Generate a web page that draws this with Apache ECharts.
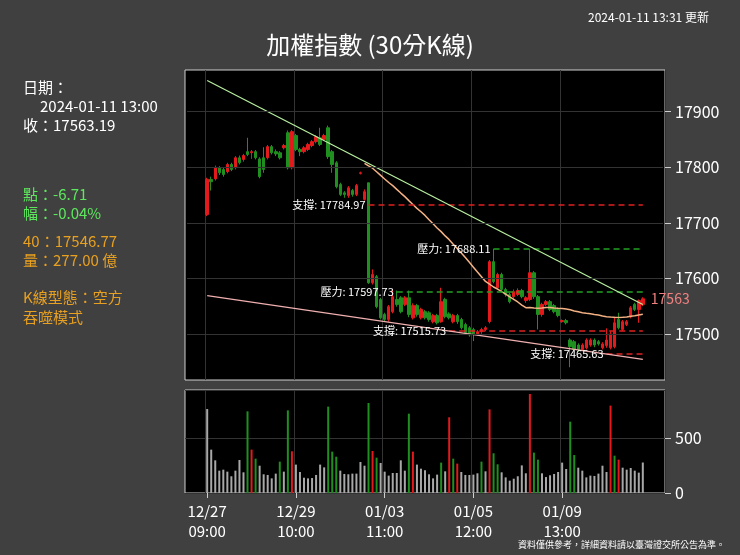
<!DOCTYPE html>
<html lang="zh-Hant">
<head>
<meta charset="UTF-8">
<title>加權指數 (30分K線)</title>
<script src="https://cdn.jsdelivr.net/npm/echarts@6/dist/echarts.min.js"></script>
<style>
  html, body { margin: 0; padding: 0; background: #404040; }
  #chart { width: 740px; height: 555px; }
</style>
</head>
<body>
<div id="chart"></div>
<script>
  // trading days and 30-min bar times
  const days = ['12/27', '12/28', '12/29', '01/02', '01/03', '01/04', '01/05', '01/08', '01/09', '01/10', '01/11'];
  const times = ['09:00', '09:30', '10:00', '10:30', '11:00', '11:30', '12:00', '12:30', '13:00', '13:30'];

  // [open, close, low, high]
  const kData = [
    [17715,17778,17712,17781],[17778,17774,17758,17783],[17779,17799,17776,17803],[17799,17790,17786,17802],[17796,17787,17783,17799],
    [17792,17805,17789,17808],[17805,17796,17793,17808],[17799,17817,17796,17820],[17817,17808,17805,17821],[17814,17821,17810,17824],
    [17828,17823,17820,17853],[17826,17828,17815,17831],[17828,17817,17814,17831],[17815,17783,17780,17818],[17817,17796,17790,17836],
    [17817,17837,17814,17840],[17837,17826,17823,17840],[17828,17824,17820,17832],[17826,17817,17814,17829],[17835,17839,17832,17842],
    [17862,17799,17796,17866],[17799,17864,17796,17867],[17857,17832,17829,17860],[17832,17828,17820,17835],[17828,17835,17825,17838],
    [17832,17841,17829,17844],[17839,17846,17836,17849],[17846,17855,17843,17858],[17853,17841,17838,17871],[17850,17857,17847,17860],
    [17871,17819,17815,17875],[17828,17805,17790,17831],[17808,17765,17762,17811],[17769,17751,17748,17772],[17754,17751,17745,17757],
    [17749,17763,17745,17766],[17758,17751,17747,17761],[17751,17767,17748,17770],[17789,17790,17787,17792],[17742,17756,17740,17760],
    [17772,17592,17590,17772],[17592,17607,17589,17616],[17603,17549,17546,17606],[17562,17529,17526,17565],[17535,17526,17522,17538],
    [17526,17549,17522,17552],[17540,17567,17537,17580],[17562,17553,17549,17578],[17565,17540,17537,17568],[17553,17565,17550,17568],
    [17565,17535,17530,17578],[17529,17551,17526,17555],[17551,17535,17531,17554],[17529,17544,17526,17547],[17540,17529,17526,17543],
    [17538,17526,17522,17541],[17522,17533,17519,17536],[17533,17520,17517,17536],[17522,17558,17520,17583],[17562,17531,17528,17565],
    [17536,17529,17526,17539],[17522,17533,17519,17536],[17533,17522,17518,17536],[17526,17511,17508,17529],[17517,17502,17499,17520],
    [17511,17498,17495,17514],[17508,17500,17487,17511],[17500,17504,17497,17507],[17504,17508,17500,17511],[17508,17511,17505,17514],
    [17522,17630,17519,17633],[17630,17594,17591,17653],[17583,17607,17580,17610],[17607,17580,17576,17610],[17580,17571,17567,17583],
    [17571,17558,17555,17574],[17567,17576,17564,17580],[17571,17578,17568,17582],[17578,17567,17564,17581],[17560,17565,17556,17568],
    [17562,17610,17559,17653],[17610,17567,17563,17613],[17567,17535,17508,17570],[17535,17553,17531,17556],[17553,17558,17550,17561],
    [17558,17544,17541,17561],[17551,17540,17537,17554],[17544,17533,17530,17547],[17522,17524,17520,17526],[17524,17520,17517,17527],
    [17489,17477,17440,17492],[17486,17472,17469,17489],[17480,17472,17468,17483],[17472,17480,17469,17483],[17475,17489,17472,17492],
    [17480,17489,17477,17492],[17489,17480,17476,17492],[17486,17482,17479,17489],[17475,17482,17472,17485],[17479,17489,17475,17510],
    [17475,17500,17472,17505],[17477,17520,17474,17529],[17526,17511,17508,17538],[17508,17522,17505,17525],[17517,17522,17514,17525],
    [17531,17547,17528,17550],[17553,17544,17541,17556],[17544,17560,17520,17562],[17553,17563.19,17550,17566]
  ];

  // volume (億)
  const volumes = [
    763,394,297,203,212,194,152,203,300,188,
    742,394,312,248,170,164,133,176,285,194,
    751,379,258,191,139,133,136,164,258,233,
    785,376,330,203,173,170,176,176,282,248,
    818,382,321,273,194,158,182,182,297,203,
    721,376,258,221,206,170,133,167,276,197,
    688,312,267,191,164,164,167,179,285,197,
    760,361,261,188,142,112,130,152,251,179,
    900,367,303,179,145,161,173,191,276,218,
    648,345,230,203,142,158,155,176,248,191,
    794,339,303,230,212,227,203,185,277
  ];
  // highlighted volume bars: 1 = up (red), -1 = down (green)
  const volMarks = {
    10: -1, 11: 1, 12: -1, 18: -1, 20: -1, 21: 1, 30: -1, 31: -1, 32: -1,
    40: -1, 41: 1, 42: -1, 50: -1, 51: 1, 58: -1, 60: 1, 61: -1, 62: 1, 68: -1,
    70: 1, 71: -1, 72: -1, 80: 1, 81: -1, 82: -1, 90: -1, 91: -1, 100: 1, 101: -1, 102: 1
  };

  // support / resistance lines: [startIndex, level, label, colour]
  const levels = [
    [40, 17733, '支撐: 17784.97', '#e02020'],
    [71, 17653, '壓力: 17688.11', '#22a022'],
    [47, 17576, '壓力: 17597.73', '#22a022'],
    [60, 17506, '支撐: 17515.73', '#e02020'],
    [99, 17465, '支撐: 17465.63', '#e02020']
  ];
  // trend lines: [[x0, y0], [x1, y1]]
  const upperTrend = [[0, 17956], [108, 17553]];
  const lowerTrend = [[0, 17569], [108, 17454]];
  const priceTicks = [17500, 17600, 17700, 17800, 17900];

  const RED = '#e3191c', GREEN = '#1f8f1f';
  const PAD = 5; // empty slots on each side of the x axis
  const LABEL_EVERY = 22;

  const categories = [];
  days.forEach(d => times.forEach(t => categories.push(d + '\n' + t)));
  categories.length = kData.length;
  const blanks = Array(PAD).fill('');
  const cats = blanks.concat(categories, blanks);
  const pad = arr => Array(PAD).fill('-').concat(arr, Array(PAD).fill('-'));
  const showAt = i => i >= PAD && i < PAD + kData.length && (i - PAD) % LABEL_EVERY === 0;

  const ma40 = kData.map((_, i) => {
    if (i < 39) return '-';
    let s = 0;
    for (let j = i - 39; j <= i; j++) s += kData[j][1];
    return +(s / 40).toFixed(2);
  });

  const volData = volumes.map((v, i) => {
    const m = volMarks[i];
    return { value: v, itemStyle: { color: m === 1 ? RED : m === -1 ? GREEN : '#a8a8a8' } };
  });

  const last = PAD + kData.length - 1;
  const markLines = levels.map(l => [
    { coord: [PAD + l[0], l[1]], lineStyle: { color: l[3], type: [6, 4], width: 1.5 },
      label: { show: true, position: 'start', formatter: l[2], color: '#fff', fontSize: 11, distance: 3 } },
    { coord: [last, l[1]] }
  ]);
  [[upperTrend, '#b8f0a0'], [lowerTrend, '#f0b0b0']].forEach(([t, c]) => markLines.push([
    { coord: [PAD + t[0][0], t[0][1]], lineStyle: { color: c, type: 'solid', width: 1.2 }, label: { show: false } },
    { coord: [PAD + t[1][0], t[1][1]] }
  ]));

  const chart = echarts.init(document.getElementById('chart'));
  const FONT = '"Noto Sans CJK TC", sans-serif';
  const txt = (x, y, t, color, size) => ({
    type: 'text', left: x, top: y,
    style: { text: t, fill: color, font: (size || 15) + 'px ' + FONT }
  });

  chart.setOption({
    backgroundColor: '#404040',
    animation: false,
    textStyle: { fontFamily: FONT },
    title: {
      text: '加權指數 (30分K線)', left: 'center', top: 28,
      textStyle: { color: '#fff', fontSize: 24, fontWeight: 'normal', fontFamily: FONT }
    },
    graphic: [
      txt(588, 11, '2024-01-11 13:31 更新', '#fff', 12),
      txt(23, 80, '日期：', '#fff'),
      txt(40, 99, '2024-01-11 13:00', '#fff'),
      txt(23, 118, '收：17563.19', '#fff'),
      txt(23, 187, '點：-6.71', '#5ee85e'),
      txt(23, 206, '幅：-0.04%', '#5ee85e'),
      txt(23, 234, '40：17546.77', '#e8a020'),
      txt(23, 253, '量：277.00 億', '#e8a020'),
      txt(23, 290, 'K線型態：空方', '#e8a020'),
      txt(23, 310, '吞噬模式', '#e8a020'),
      txt(518, 540, '資料僅供參考，詳細資料請以臺灣證交所公告為準。', '#fff', 9)
    ],
    grid: [
      { left: 185, top: 70, width: 480, height: 310, show: true, backgroundColor: '#000', borderColor: '#cfcfcf', borderWidth: 1 },
      { left: 185, top: 390, width: 480, height: 103, show: true, backgroundColor: '#000', borderColor: '#cfcfcf', borderWidth: 1 }
    ],
    xAxis: [0, 1].map(g => ({
      type: 'category', gridIndex: g, data: cats, boundaryGap: true,
      axisLine: { show: false },
      axisTick: { show: g === 1, interval: showAt, alignWithLabel: true, length: 5, lineStyle: { color: '#cfcfcf' } },
      axisLabel: { show: g === 1, interval: showAt, color: '#fff', fontSize: 15, lineHeight: 20, margin: 8 },
      splitLine: { show: true, interval: showAt, lineStyle: { color: '#333' } }
    })),
    yAxis: [
      {
        gridIndex: 0, position: 'right', min: 17417, max: 17975,
        axisLine: { show: false },
        axisTick: { show: true, customValues: priceTicks, length: 6, lineStyle: { color: '#cfcfcf' } },
        axisLabel: { color: '#fff', fontSize: 16, margin: 10, customValues: priceTicks, formatter: v => String(v) },
        splitLine: { show: false }
      },
      {
        gridIndex: 1, position: 'right', min: 0, max: 936, interval: 500,
        axisLine: { show: false }, axisTick: { show: true, length: 6, lineStyle: { color: '#cfcfcf' } },
        axisLabel: { color: '#fff', fontSize: 16, margin: 10, showMaxLabel: false },
        splitLine: { lineStyle: { color: '#333' } }
      }
    ],
    series: [
      {
        type: 'candlestick', data: pad(kData), barWidth: 3,
        itemStyle: { color: RED, color0: GREEN, borderColor: RED, borderColor0: GREEN, borderWidth: 1 },
        markLine: { symbol: ['none', 'none'], silent: true, animation: false, data: markLines.concat(
          priceTicks.map(v => [
            { coord: [0, v], lineStyle: { color: '#333', type: 'solid', width: 1 }, label: { show: false } },
            { coord: [cats.length - 1, v] }
          ])) },
        markPoint: {
          symbol: 'circle', symbolSize: 0, silent: true,
          data: [{ coord: [last, 17563.19],
            label: { show: true, position: 'right', distance: 8, formatter: '17563', color: '#f08080', fontSize: 14 } }]
        }
      },
      {
        type: 'line', data: pad(ma40), showSymbol: false, smooth: false,
        lineStyle: { color: '#f4b183', width: 1.5 }
      },
      {
        type: 'bar', xAxisIndex: 1, yAxisIndex: 1, data: pad(volData), barWidth: 2
      }
    ]
  });
</script>
</body>
</html>
